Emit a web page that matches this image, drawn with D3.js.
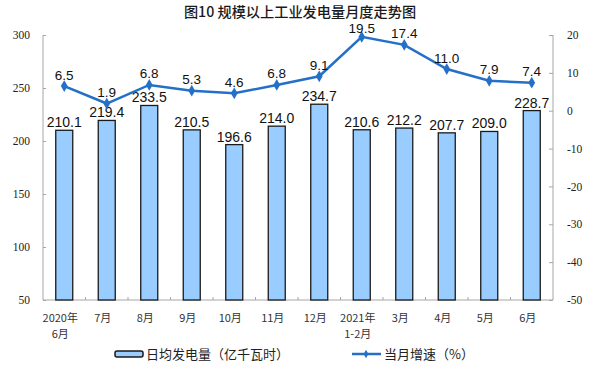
<!DOCTYPE html>
<html><head><meta charset="utf-8">
<script src="https://cdn.jsdelivr.net/npm/d3@7"></script>
<style>
body{margin:0;background:#fff;}
svg{display:block;}
</style></head>
<body>
<svg id="chart" width="600" height="368"></svg>
<script>
const categories = ["2020年|6月","7月","8月","9月","10月","11月","12月","2021年|1-2月","3月","4月","5月","6月"];
const barValues = [210.1,219.4,233.5,210.5,196.6,214.0,234.7,210.6,212.2,207.7,209.0,228.7];
const lineValues = [6.5,1.9,6.8,5.3,4.6,6.8,9.1,19.5,17.4,11.0,7.9,7.4];
const leftTicks = [50,100,150,200,250,300];
const rightTicks = [-50,-40,-30,-20,-10,0,10,20];
const title = "图10 规模以上工业发电量月度走势图";
const barLegend = "日均发电量（亿千瓦时）";
const lineLegend = "当月增速（%）";

const svg = d3.select("#chart");
const L = 43, R = 553, T = 35, B = 300;
const axisColor = "#a6a6a6";
const barFill = "#99ccff", lineColor = "#2470c8";
const tickFont = "'Liberation Serif','Times New Roman',serif";
const cjkFont = "'Noto Sans CJK SC',sans-serif";
const numFont = "'Liberation Sans',Arial,sans-serif";

const x = d3.scaleBand().domain(d3.range(categories.length)).range([L,R]).paddingInner(0.6).paddingOuter(0.3);
const xc = d3.scaleBand().domain(d3.range(categories.length)).range([L,R]);
const yL = d3.scaleLinear().domain([50,300]).range([B,T]);
const yR = d3.scaleLinear().domain([-50,20]).range([B,T]);

svg.append("text").attr("x",300).attr("y",16.5).attr("text-anchor","middle")
  .attr("font-family",cjkFont).attr("font-size",14.2).attr("font-weight",500).attr("fill","#1a1a1a").text(title);

// left axis
const gl = svg.append("g").attr("transform",`translate(${L},0)`)
  .call(d3.axisLeft(yL).tickValues(leftTicks).tickSize(-3).tickPadding(13).tickFormat(d=>String(d)));
gl.selectAll("path,line").attr("stroke",axisColor);
gl.select(".domain").attr("d",`M0,${T}V${B}`);
gl.selectAll("text").attr("font-family",tickFont).attr("font-size",11.5).attr("fill","#222");

// right axis
const gr = svg.append("g").attr("transform",`translate(${R},0)`)
  .call(d3.axisRight(yR).tickValues(rightTicks).tickSize(-4).tickPadding(14).tickFormat(d=>String(d)));
gr.selectAll("path,line").attr("stroke",axisColor);
gr.select(".domain").attr("d",`M0,${T}V${B}`);
gr.selectAll("text").attr("font-family",tickFont).attr("font-size",11.5).attr("fill","#222");

// bottom axis
svg.append("line").attr("x1",L).attr("x2",R).attr("y1",B).attr("y2",B).attr("stroke",axisColor);
svg.selectAll(".xt").data(d3.range(1,categories.length)).join("line")
  .attr("x1",d=>xc(d)).attr("x2",d=>xc(d)).attr("y1",B).attr("y2",B-3).attr("stroke",axisColor);

// bars
svg.selectAll(".bar").data(barValues).join("rect")
  .attr("x",(d,i)=>x(i)).attr("width",x.bandwidth())
  .attr("y",d=>yL(d)).attr("height",d=>B-yL(d))
  .attr("fill",barFill).attr("stroke","#1a1a1a").attr("stroke-width",1.3);
svg.selectAll(".bl").data(barValues).join("text")
  .attr("x",(d,i)=>x(i)+x.bandwidth()/2).attr("y",d=>yL(d)-3)
  .attr("text-anchor","middle").attr("font-family",numFont)
  .attr("font-size",14).attr("fill","#111").text(d=>d.toFixed(1));

// category labels
categories.forEach((c,i)=>{
  const parts = c.split("|");
  const t = svg.append("text").attr("x",xc(i)+xc.bandwidth()/2-4).attr("y",322)
    .attr("text-anchor","middle").attr("font-family",cjkFont).attr("font-size",11).attr("fill","#333");
  parts.forEach((p,j)=>t.append("tspan").attr("x",xc(i)+xc.bandwidth()/2-4).attr("dy",j?16:0).text(p));
});

// line
const cx = i => xc(i)+xc.bandwidth()/2;
svg.append("path").datum(lineValues)
  .attr("d",d3.line().x((d,i)=>cx(i)).y(d=>yR(d)))
  .attr("fill","none").attr("stroke",lineColor).attr("stroke-width",2.5);
svg.selectAll(".mk").data(lineValues).join("path")
  .attr("transform",(d,i)=>`translate(${cx(i)},${yR(d)})`)
  .attr("d",d3.symbol(d3.symbolDiamond,40)).attr("fill",lineColor);
svg.selectAll(".ll").data(lineValues).join("text")
  .attr("x",(d,i)=>cx(i)).attr("y",d=>Math.max(yR(d)-6.5, 33))
  .attr("text-anchor","middle").attr("font-family",numFont)
  .attr("font-size",13.5).attr("fill","#111").text(d=>d.toFixed(1));

// legend
const ly = 354;
svg.append("rect").attr("x",115).attr("y",ly-3).attr("width",28).attr("height",6)
  .attr("rx",2).attr("fill",barFill).attr("stroke","#1a1a1a").attr("stroke-width",1.5);
svg.append("text").attr("x",146).attr("y",ly+5).attr("font-family",cjkFont).attr("font-size",13).attr("fill","#222").text(barLegend);
svg.append("line").attr("x1",352).attr("x2",381).attr("y1",ly).attr("y2",ly).attr("stroke",lineColor).attr("stroke-width",2.5);
svg.append("path").attr("transform",`translate(366,${ly})`).attr("d",d3.symbol(d3.symbolDiamond,20)).attr("fill",lineColor);
svg.append("text").attr("x",384).attr("y",ly+5).attr("font-family",cjkFont).attr("font-size",13).attr("fill","#222").text(lineLegend);
</script>
</body></html>
